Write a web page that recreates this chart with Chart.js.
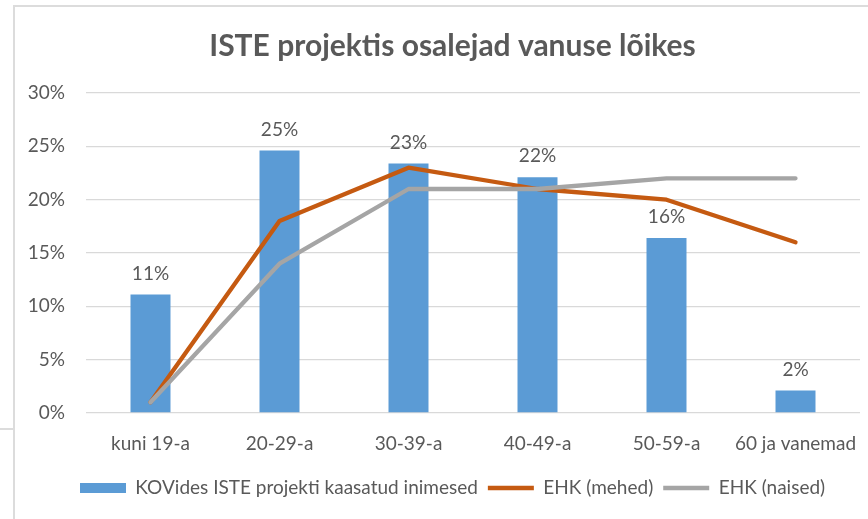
<!DOCTYPE html>
<html>
<head>
<meta charset="utf-8">
<script src="https://cdn.jsdelivr.net/npm/chart.js@4/dist/chart.umd.min.js"></script>
<style>
  html, body { margin: 0; padding: 0; background: #fff; }
  #wrap { position: relative; width: 868px; height: 519px; overflow: hidden; }
  canvas { position: absolute; left: 0; top: 0; }
  .fr { position: absolute; background: #dcdcdc; }
</style>
</head>
<body>
<div id="wrap">
  <canvas id="c" width="868" height="519"></canvas>
  <div class="fr" style="left:13px; top:5px; width:855px; height:2px;"></div>
  <div class="fr" style="left:13px; top:5px; width:2px; height:514px;"></div>
  <div class="fr" style="left:0px; top:428px; width:13px; height:2px;"></div>
</div>
<script>
const categories = ['kuni 19-a', '20-29-a', '30-39-a', '40-49-a', '50-59-a', '60 ja vanemad'];
const kovValues = [11.1, 24.6, 23.4, 22.1, 16.4, 2.1];
const mehedValues = [1, 18, 23, 21, 20, 16];
const naisedValues = [1, 14, 21, 21, 22, 22];
const yTicks = [0, 5, 10, 15, 20, 25, 30];
const seriesNames = ['KOVides ISTE projekti kaasatud inimesed', 'EHK (mehed)', 'EHK (naised)'];
const titleText = 'ISTE projektis osalejad vanuse lõikes';

const TXT = '#595959';
const FONT = 'Lato';
const BLUE = '#5B9BD5', ORANGE = '#C55A11', GRAY = '#A5A5A5';

// legend swatch for the bar series
const swatch = document.createElement('canvas');
swatch.width = 46; swatch.height = 10;
const sctx = swatch.getContext('2d');
sctx.fillStyle = BLUE; sctx.fillRect(0, 0, 46, 10);

const dataLabels = {
  id: 'dataLabels',
  afterDatasetsDraw(chart) {
    const meta = chart.getDatasetMeta(0);
    const ctx = chart.ctx;
    ctx.save();
    ctx.font = '19px ' + FONT;
    ctx.fillStyle = TXT;
    ctx.textAlign = 'center';
    ctx.textBaseline = 'middle';
    meta.data.forEach((el, i) => {
      ctx.fillText(Math.round(kovValues[i]) + '%', el.x, el.y - 21);
    });
    ctx.restore();
  }
};

new Chart(document.getElementById('c'), {
  data: {
    labels: categories,
    datasets: [
      { type: 'bar', label: seriesNames[0], data: kovValues, backgroundColor: BLUE,
        barPercentage: 0.31, categoryPercentage: 1, order: 3 },
      { type: 'line', label: seriesNames[1], data: mehedValues, borderColor: ORANGE, borderWidth: 4.3,
        pointRadius: 0, tension: 0, borderCapStyle: 'round', borderJoinStyle: 'round', fill: false, order: 2 },
      { type: 'line', label: seriesNames[2], data: naisedValues, borderColor: GRAY, borderWidth: 4.3,
        pointRadius: 0, tension: 0, borderCapStyle: 'round', borderJoinStyle: 'round', fill: false, order: 1 }
    ]
  },
  options: {
    responsive: false,
    animation: false,
    layout: { padding: { left: 45, right: 8, top: 0, bottom: 11.5 } },
    scales: {
      x: {
        grid: { display: false, drawTicks: false },
        border: { display: false },
        ticks: { color: TXT, font: { family: FONT, size: 19 }, padding: 19, maxRotation: 0, autoSkip: false },
        afterFit(s) { s.height = 55.5; s.paddingLeft = 0; s.paddingRight = 0; s._computeLabelArea = () => undefined; }
      },
      y: {
        min: 0, max: 30,
        afterBuildTicks(s) { s.ticks = yTicks.map(v => ({ value: v })); },
        grid: { color: '#D9D9D9', lineWidth: 1.3, drawTicks: false },
        border: { display: false },
        ticks: { color: TXT, font: { family: FONT, size: 19 }, padding: 21, callback: v => v + '%' },
        afterFit(s) { s.width = 41; s._computeLabelArea = () => undefined; }
      }
    },
    plugins: {
      title: {
        display: true, text: titleText, color: TXT,
        font: { family: FONT, size: 30, weight: 'bold' },
        padding: { top: 28.5, bottom: 28.5 }
      },
      legend: {
        position: 'bottom',
        labels: {
          color: TXT, font: { family: FONT, size: 19 }, padding: 10,
          usePointStyle: true, pointStyleWidth: 46,
          generateLabels(chart) {
            const ds = chart.data.datasets;
            return ds.map((d, i) => ({
              text: d.label,
              fillStyle: i === 0 ? BLUE : d.borderColor,
              strokeStyle: i === 0 ? BLUE : d.borderColor,
              lineWidth: i === 0 ? 0 : 4.3,
              lineCap: 'butt',
              pointStyle: i === 0 ? swatch : 'line',
              fontColor: TXT,
              hidden: false,
              datasetIndex: i
            }));
          }
        }
      },
      tooltip: { enabled: false }
    }
  },
  plugins: [dataLabels]
});
</script>
</body>
</html>
